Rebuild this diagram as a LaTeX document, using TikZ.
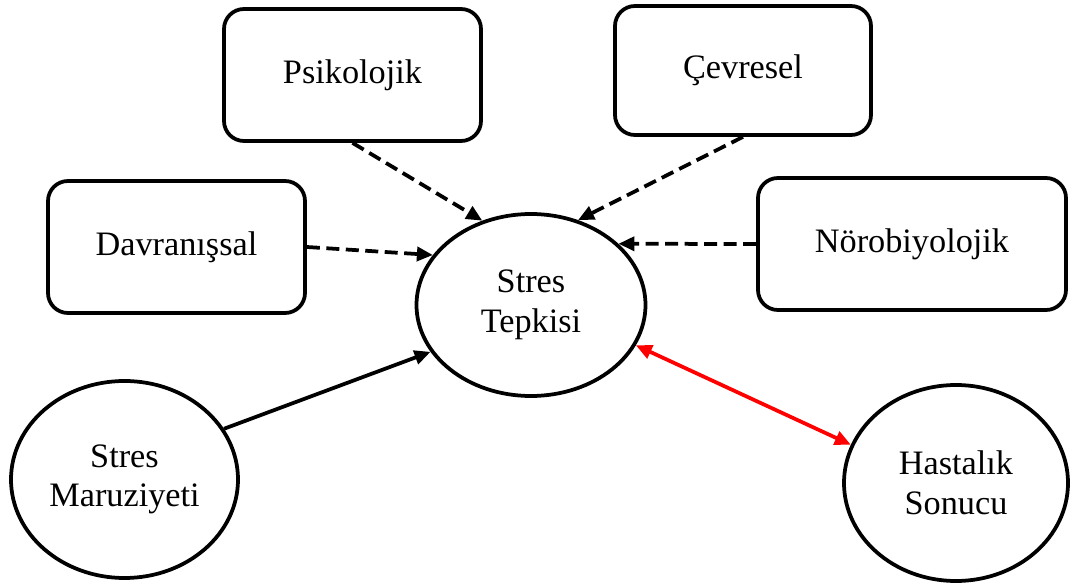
\documentclass[tikz,border=0pt]{standalone}
\usepackage{fontspec}
\setmainfont{Liberation Serif}
\usetikzlibrary{shapes.geometric,arrows.meta}
\begin{document}
\begin{tikzpicture}[
  lw/.style={line width=0.075cm},
  factor/.style={draw,lw,rounded corners=0.4cm,inner sep=0pt,align=center,font=\fontsize{19.5}{22.5}\selectfont},
  oval/.style={draw,lw,ellipse,inner sep=0pt,align=center,font=\fontsize{19.5}{22.5}\selectfont},
  tip/.style={-{Triangle[length=0.32cm,width=0.28cm]}},
  dasharrow/.style={lw,tip,dash pattern=on 0.26cm off 0.13cm},
  solidarrow/.style={lw,tip},
  redarrow/.style={lw,red,{Triangle[length=0.32cm,width=0.28cm]}-{Triangle[length=0.32cm,width=0.28cm]}}
]
\useasboundingbox (0,0) rectangle (21.44,-11.7);
\node[factor,minimum width=5.14cm,minimum height=2.64cm] (psi) at (7.05,-1.5) {Psikolojik};
\node[factor,minimum width=5.12cm,minimum height=2.58cm] (cev) at (14.86,-1.41) {Çevresel};
\node[factor,minimum width=6.16cm,minimum height=2.64cm] (nor) at (18.24,-4.88) {Nörobiyolojik};
\node[factor,minimum width=5.14cm,minimum height=2.64cm] (dav) at (3.53,-4.94) {Davranışsal};
\node[oval,minimum width=4.58cm,minimum height=3.64cm] (st) at (10.62,-6.1) {Stres\\Tepkisi};
\node[oval,minimum width=4.54cm,minimum height=3.94cm] (sm) at (2.49,-9.59) {Stres\\Maruziyeti};
\node[oval,minimum width=4.48cm,minimum height=3.92cm] (hs) at (19.12,-9.66) {Hastalık\\Sonucu};
\draw[dasharrow] (psi.south) -- (st.120);
\draw[dasharrow] (cev.south) -- (st.61);
\draw[dasharrow] (nor.west) -- (st.35);
\draw[dasharrow] (dav.east) -- (st.153);
\draw[solidarrow] (sm.27) -- (st.205);
\draw[redarrow] (st.339) -- (hs.160);
\end{tikzpicture}
\end{document}
